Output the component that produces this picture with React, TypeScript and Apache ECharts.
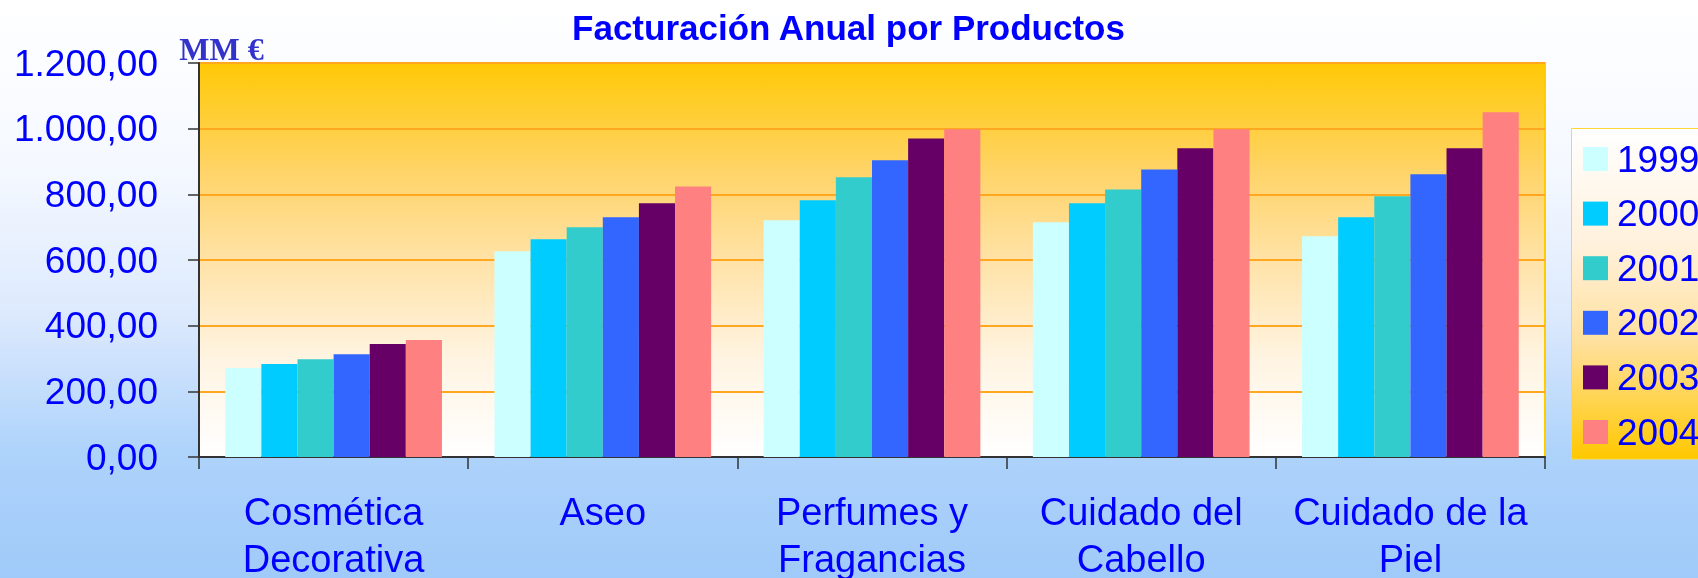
import React, { useEffect, useRef } from "react";
import * as echarts from "echarts";

const categories = [
  "Cosmética\nDecorativa",
  "Aseo",
  "Perfumes y\nFragancias",
  "Cuidado del\nCabello",
  "Cuidado de la\nPiel",
];

const years = ["1999", "2000", "2001", "2002", "2003", "2004"];

const values1999 = [271, 627, 721, 715, 672];
const values2000 = [283, 663, 782, 773, 730];
const values2001 = [298, 700, 852, 815, 794];
const values2002 = [313, 730, 904, 876, 861];
const values2003 = [344, 773, 970, 940, 940];
const values2004 = [356, 824, 998, 998, 1050];

const seriesValues = [values1999, values2000, values2001, values2002, values2003, values2004];
const colors = ["#CCFFFF", "#00CCFF", "#33CCCC", "#3366FF", "#660066", "#FF8080"];

const titleText = "Facturación Anual por Productos";
const unitText = "MM €";

const FONT = "'Liberation Sans', Arial, Helvetica, sans-serif";

function formatNum(v: number): string {
  const intPart = Math.round(v)
    .toString()
    .replace(/\B(?=(\d{3})+(?!\d))/g, ".");
  return intPart + ",00";
}

export default function App() {
  const ref = useRef<HTMLDivElement>(null);

  useEffect(() => {
    if (!ref.current) return;
    const chart = echarts.init(ref.current, undefined, { renderer: "svg" });
    const LG = echarts.graphic.LinearGradient;

    chart.setOption({
      animation: false,
      graphic: [
        {
          type: "rect",
          z: -10,
          shape: { x: 0, y: 0, width: 1698, height: 578 },
          style: {
            fill: new LG(0, 0, 0, 1, [
              { offset: 0, color: "#FFFFFF" },
              { offset: 0.3, color: "#F4F8FF" },
              { offset: 0.55, color: "#DCE9FD" },
              { offset: 0.78, color: "#AED3FB" },
              { offset: 1, color: "#A0CAF9" },
            ]),
          },
        },
        {
          type: "rect",
          z: -5,
          shape: { x: 1571.5, y: 128.5, width: 200, height: 330.5 },
          style: {
            fill: new LG(0, 0, 0, 1, [
              { offset: 0, color: "#FFFFFF" },
              { offset: 0.35, color: "#FFF1DC" },
              { offset: 0.65, color: "#FFE09C" },
              { offset: 1, color: "#FFC800" },
            ]),
            stroke: "#FFD633",
            lineWidth: 1,
          },
        },
        {
          type: "text",
          x: 848.5,
          y: 27.5,
          style: {
            text: titleText,
            fontFamily: FONT,
            fontSize: 35,
            fontWeight: "bold",
            fill: "#0000FF",
            align: "center",
            verticalAlign: "middle",
          },
        },
        {
          type: "text",
          x: 221.5,
          y: 49,
          style: {
            text: unitText,
            fontFamily: "'Liberation Serif', 'Times New Roman', serif",
            fontSize: 32,
            fontWeight: "bold",
            fill: "#3333CC",
            align: "center",
            verticalAlign: "middle",
          },
        },
      ],
      grid: {
        left: 199,
        right: 153,
        top: 63,
        bottom: 121,
        containLabel: false,
        outerBoundsMode: "none",
        show: true,
        backgroundColor: new LG(0, 0, 0, 1, [
          { offset: 0, color: "#FFC905" },
          { offset: 0.28, color: "#FFD46A" },
          { offset: 0.5, color: "#FFE2A6" },
          { offset: 0.75, color: "#FFF4E2" },
          { offset: 1, color: "#FFFFFF" },
        ]),
        borderColor: "#FFCC00",
        borderWidth: 2,
      },
      legend: {
        orient: "vertical",
        left: 1583,
        top: 140.5,
        padding: 0,
        itemWidth: 25,
        itemHeight: 24,
        itemGap: 17.6,
        icon: "rect",
        data: years,
        textStyle: {
          fontFamily: FONT,
          fontSize: 37,
          color: "#0000FF",
          padding: [0, 0, 0, 4],
        },
      },
      xAxis: {
        type: "category",
        data: categories,
        axisLine: { show: true, lineStyle: { color: "#333333", width: 2 } },
        axisTick: { show: true, length: 12, lineStyle: { color: "#333333", width: 1.5 } },
        axisLabel: {
          interval: 0,
          margin: 31,
          fontFamily: FONT,
          fontSize: 38,
          lineHeight: 47,
          color: "#0000FF",
        },
        splitLine: { show: false },
      },
      yAxis: {
        type: "value",
        min: 0,
        max: 1200,
        interval: 200,
        axisLine: { show: true, lineStyle: { color: "#333333", width: 2 } },
        axisTick: { show: true, length: 11, lineStyle: { color: "#333333", width: 1.5 } },
        axisLabel: {
          margin: 41,
          fontFamily: FONT,
          fontSize: 37,
          color: "#0000FF",
          formatter: (v: number) => formatNum(v),
        },
        splitLine: { show: true, lineStyle: { color: "#FFA81F", width: 2 } },
      },
      series: years.map((y, i) => ({
        name: y,
        type: "bar",
        data: seriesValues[i],
        barGap: "0%",
        barCategoryGap: "19.5%",
        itemStyle: { color: colors[i] },
      })),
    });

    return () => chart.dispose();
  }, []);

  return (
    <div
      ref={ref}
      style={{ position: "fixed", left: 0, top: 0, width: 1698, height: 578 }}
    />
  );
}
